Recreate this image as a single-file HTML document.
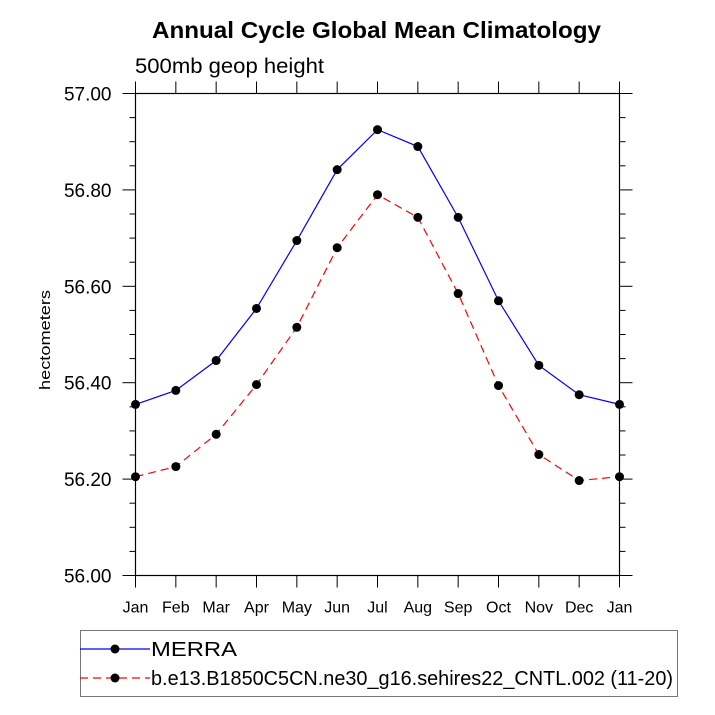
<!DOCTYPE html>
<html><head><meta charset="utf-8"><style>body{margin:0;background:#fff}svg{display:block;font-family:"Liberation Sans",Arial,sans-serif}</style></head>
<body>
<svg id="c" width="715" height="715">
<text x="376.5" y="38" text-anchor="middle" font-size="23" font-weight="bold" textLength="449" lengthAdjust="spacingAndGlyphs">Annual Cycle Global Mean Climatology</text>
<text x="135" y="73" font-size="21" textLength="189" lengthAdjust="spacingAndGlyphs">500mb geop height</text>
<text transform="translate(50,340) rotate(-90)" text-anchor="middle" font-size="15" textLength="100" lengthAdjust="spacingAndGlyphs">hectometers</text>
<g id="ticks"></g>
<rect x="135.5" y="93.5" width="484" height="482" fill="none" stroke="#000" stroke-width="1.2"/>
<g id="series"></g>
<rect x="80.5" y="630.5" width="597" height="66" fill="none" stroke="#777" stroke-width="1"/>
<g>
<line x1="80" y1="649" x2="150" y2="649" stroke="#00f" stroke-width="1.2"/><circle cx="115" cy="649" r="4.5"/>
<text x="151" y="656" font-size="20" textLength="86" lengthAdjust="spacingAndGlyphs">MERRA</text></g>
<g>
<line x1="80" y1="678" x2="150" y2="678" stroke="#f00" stroke-width="1.2" stroke-dasharray="8,5"/><circle cx="115" cy="678" r="4.5"/>
<text x="151" y="685" font-size="20" textLength="522" lengthAdjust="spacingAndGlyphs">b.e13.B1850C5CN.ne30_g16.sehires22_CNTL.002 (11-20)</text></g>
</svg>
<script>
const months=["Jan","Feb","Mar","Apr","May","Jun","Jul","Aug","Sep","Oct","Nov","Dec","Jan"];
const merra=[56.355,56.384,56.446,56.554,56.695,56.842,56.925,56.890,56.743,56.570,56.436,56.375,56.355];
const model=[56.205,56.226,56.293,56.396,56.515,56.680,56.790,56.743,56.585,56.394,56.251,56.197,56.205];
const yTicks=["56.00","56.20","56.40","56.60","56.80","57.00"];
const L=135.5,R=619.5,T=93.5,B=575.5,ymin=56,ymax=57;
const xs=i=>L+(R-L)*i/(months.length-1);
const ys=v=>B-(v-ymin)/(ymax-ymin)*(B-T);
const NS="http://www.w3.org/2000/svg";
function mk(t,a,p){const e=document.createElementNS(NS,t);for(const k in a)e.setAttribute(k,a[k]);p.appendChild(e);return e;}
const tk=document.getElementById('ticks'),sr=document.getElementById('series');
months.forEach((m,i)=>{const x=xs(i);
mk('line',{x1:x,x2:x,y1:B,y2:B+12,stroke:'#000'},tk);mk('line',{x1:x,x2:x,y1:T,y2:T-12,stroke:'#000'},tk);
const t=mk('text',{x:x,y:B+37,'text-anchor':'middle','font-size':16},tk);t.textContent=m;

});
for(let v=0;v<=20;v++){const val=ymin+v*0.05,y=ys(val),maj=v%4==0,len=maj?13:6;
mk('line',{x1:L-len,x2:L,y1:y,y2:y,stroke:'#000'},tk);mk('line',{x1:R,x2:R+len,y1:y,y2:y,stroke:'#000'},tk);}
yTicks.forEach(s=>{const t=mk('text',{x:L-24,y:ys(+s)+7,'text-anchor':'end','font-size':19},tk);t.textContent=s;

});
function draw(d,col,dash,name){const g=mk('g',{},sr);


mk('polyline',{points:d.map((v,i)=>xs(i)+','+ys(v)).join(' '),fill:'none',stroke:col,'stroke-width':1.2,'stroke-dasharray':dash},g);
d.forEach((v,i)=>{const c=mk('circle',{cx:xs(i),cy:ys(v),r:4.5},g);

});}
draw(merra,'#00f','none','merra-series');
draw(model,'#f00','8,5','model-series');
</script>
</body></html>
